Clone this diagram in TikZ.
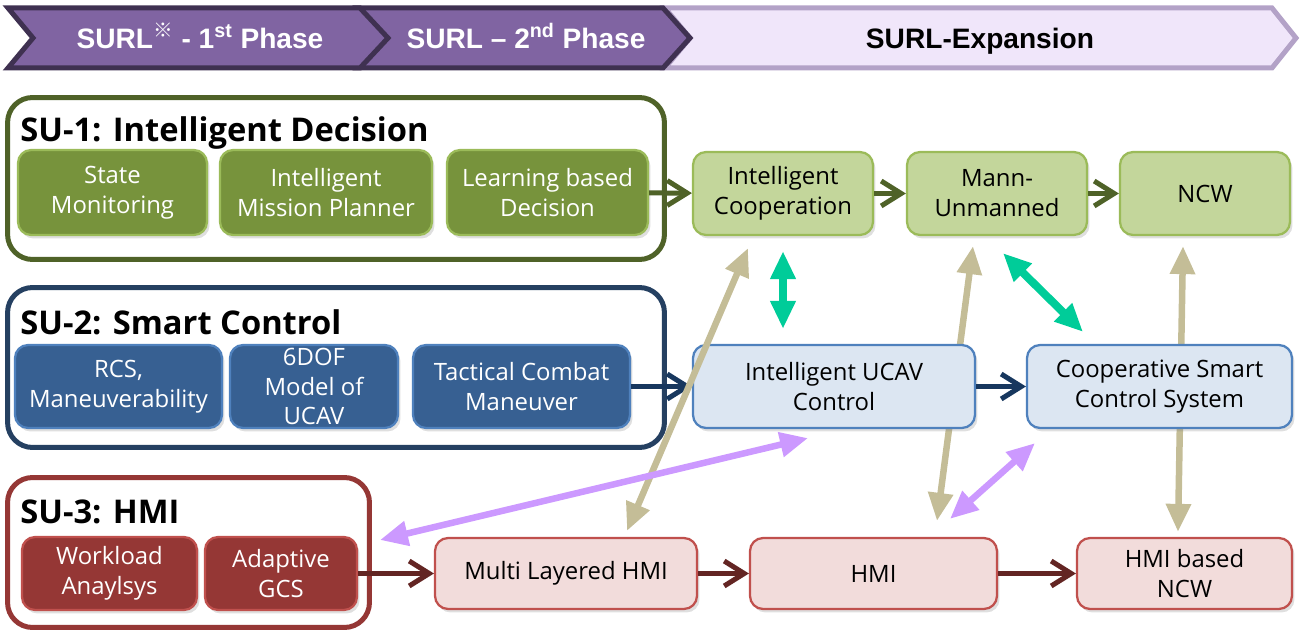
\documentclass[tikz,border=0pt]{standalone}
\usepackage{fontspec}
\setmainfont{Open Sans}
\newfontfamily\bannerfont{Liberation Sans}
\newfontfamily\cjkfont{Noto Sans CJK KR}
\usepackage{xcolor}
\usetikzlibrary{arrows.meta, positioning, backgrounds, shadows}
\definecolor{phasefill}{HTML}{8064A2}
\definecolor{phaseline}{HTML}{3F3151}
\definecolor{expfill}{HTML}{F0E6FA}
\definecolor{expline}{HTML}{B3A2C7}
\definecolor{sugreen}{HTML}{4F6228}
\definecolor{unitgreen}{HTML}{77933C}
\definecolor{edgegreen}{HTML}{9BBB59}
\definecolor{itemgreen}{HTML}{C3D69B}
\definecolor{sunavy}{HTML}{254061}
\definecolor{unitblue}{HTML}{376092}
\definecolor{edgeblue}{HTML}{4F81BD}
\definecolor{itemblue}{HTML}{DCE6F2}
\definecolor{flownavy}{HTML}{17375E}
\definecolor{sured}{HTML}{953735}
\definecolor{unitred}{HTML}{953735}
\definecolor{edgered}{HTML}{C0504D}
\definecolor{itempink}{HTML}{F2DCDB}
\definecolor{flowred}{HTML}{632523}
\definecolor{tanlink}{HTML}{C4BD97}
\definecolor{teallink}{HTML}{00CC99}
\definecolor{lilaclink}{HTML}{CC99FF}

\begin{document}
\begin{tikzpicture}[
    x=0.02cm, y=-0.02cm,
    font=\fontsize{13.6}{17}\selectfont,
    phase/.style={line width=1mm, line join=miter},
    phasetext/.style={anchor=base, font=\bannerfont\bfseries\fontsize{16}{19}\selectfont},
    group/.style={rectangle, rounded corners=5mm, line width=1mm, fill=white},
    grouptitle/.style={anchor=west, inner sep=0pt, font=\bfseries\fontsize{18.6}{22}\selectfont},
    unit/.style={rectangle, rounded corners=2.6mm, line width=0.45mm, align=center,
                 text=white, inner xsep=1pt, inner ysep=0pt,
                 drop shadow={shadow xshift=0.5mm, shadow yshift=-0.7mm, opacity=0.25}},
    item/.style={unit, text=black},
    flow/.style={-{Straight Barb[length=4mm, width=5mm]}, line width=1mm},
    link/.style={{Triangle[length=5.6mm, width=4.8mm]}-{Triangle[length=5.6mm, width=4.8mm]},
                 line width=1.3mm}
  ]
    \useasboundingbox (0,0) rectangle (1302,634);

    % phase banner
    \draw[phase, draw=expline, fill=expfill]
      (665,8) -- (1272,8) -- (1296,38) -- (1272,68) -- (665,68) -- (690,38) -- cycle;
    \draw[phase, draw=phaseline, fill=phasefill]
      (358,8) -- (663,8) -- (690,38) -- (663,68) -- (358,68) -- (385,38) -- cycle;
    \draw[phase, draw=phaseline, fill=phasefill]
      (8,8) -- (360,8) -- (388,38) -- (360,68) -- (8,68) -- (33,38) -- cycle;
    \node[phasetext, text=white] (phase1) at (200,49)
      {SURL\textsuperscript{\cjkfont ※} - 1\textsuperscript{st} Phase};
    \node[phasetext, text=white] (phase2) at (526,49) {SURL – 2\textsuperscript{nd} Phase};
    \node[phasetext] (expansion) at (980,49) {SURL-Expansion};

    % SU-1
    \node[group, draw=sugreen, minimum width=131.4mm, minimum height=32.4mm] (su1) at (336,178.5) {};
    \node[grouptitle] (su1title) at (20,133) {SU-1: Intelligent Decision};
    \node[unit, fill=unitgreen, draw=edgegreen, minimum width=37.8mm, minimum height=17mm] (monitor) at (112.5,192.5) {State\\Monitoring};
    \node[unit, fill=unitgreen, draw=edgegreen, minimum width=42.4mm, minimum height=17mm] (planner) at (326,192.5) {Intelligent\\Mission Planner};
    \node[unit, fill=unitgreen, draw=edgegreen, minimum width=40.2mm, minimum height=17mm] (learning) at (547.5,192.5) {Learning based\\Decision};

    % SU-2
    \node[group, draw=sunavy, minimum width=131.4mm, minimum height=32mm] (su2) at (336,367.5) {};
    \node[grouptitle] (su2title) at (20,322) {SU-2: Smart Control};
    \node[unit, fill=unitblue, draw=edgeblue, minimum width=41.4mm, minimum height=16.6mm] (rcs) at (118.5,386.5) {RCS,\\Maneuverability};
    \node[unit, fill=unitblue, draw=edgeblue, minimum width=33.6mm, minimum height=16.6mm] (sixdof) at (314,386.5) {6DOF\\Model of\\UCAV};
    \node[unit, fill=unitblue, draw=edgeblue, minimum width=43.4mm, minimum height=16.6mm] (tactical) at (521.5,386.5) {Tactical Combat\\Maneuver};

    % SU-3
    \node[group, draw=sured, minimum width=72.4mm, minimum height=30mm] (su3) at (188.5,552.5) {};
    \node[grouptitle] (su3title) at (20,512) {SU-3: HMI};
    \node[unit, fill=unitred, draw=edgered, minimum width=35mm, minimum height=14.6mm] (workload) at (109.5,573.5) {Workload\\Anaylsys};
    \node[unit, fill=unitred, draw=edgered, minimum width=30.4mm, minimum height=14.6mm] (gcs) at (281,573.5) {Adaptive\\GCS};

    % expansion
    \node[item, fill=itemgreen, draw=edgegreen, minimum width=36mm, minimum height=16.6mm] (coop) at (783,193.5) {Intelligent\\Cooperation};
    \node[item, fill=itemgreen, draw=edgegreen, minimum width=36mm, minimum height=16.6mm] (mum) at (997,193.5) {Mann-\\Unmanned};
    \node[item, fill=itemgreen, draw=edgegreen, minimum width=34mm, minimum height=16.6mm] (ncw) at (1205,193.5) {NCW};
    \node[item, fill=itemblue, draw=edgeblue, minimum width=56.4mm, minimum height=16.6mm] (ucav) at (834,386.5) {Intelligent UCAV\\Control};
    \node[item, fill=itemblue, draw=edgeblue, minimum width=53mm, minimum height=16.6mm] (cscs) at (1159.5,386.5) {Cooperative Smart\\Control System};
    \node[item, fill=itempink, draw=edgered, minimum width=52.4mm, minimum height=14.2mm] (layered) at (566,573.5) {Multi Layered HMI};
    \node[item, fill=itempink, draw=edgered, minimum width=49.4mm, minimum height=14.2mm] (hmi) at (873.5,573.5) {HMI};
    \node[item, fill=itempink, draw=edgered, minimum width=43mm, minimum height=14.2mm] (hmincw) at (1184.5,573.5) {HMI based\\NCW};

    % flows
    \draw[flow, draw=sugreen] (learning) -- (coop);
    \draw[flow, draw=sugreen] (coop) -- (mum);
    \draw[flow, draw=sugreen] (mum) -- (ncw);
    \draw[flow, draw=flownavy] (tactical) -- (ucav);
    \draw[flow, draw=flownavy] (ucav) -- (cscs);
    \draw[flow, draw=flowred] (gcs) -- (layered);
    \draw[flow, draw=flowred] (layered) -- (hmi);
    \draw[flow, draw=flowred] (hmi) -- (hmincw);

    % links
    \begin{scope}[on background layer]
      \draw[link, draw=tanlink] ([shift={(63.5,-16)}]hmi.north) -- ([shift={(-24,10)}]mum.south);
      \draw[link, draw=tanlink] ([shift={(-22,10)}]ncw.south) -- ([shift={(-6.5,-5)}]hmincw.north);
    \end{scope}
    \draw[link, draw=tanlink] ([shift={(61,-6)}]layered.north) -- ([shift={(-35,12)}]coop.south);
    \draw[link, draw=teallink, line width=1.6mm] ([shift={(0,15)}]coop.south) -- ([shift={(-51,-15)}]ucav.north);
    \draw[link, draw=teallink, line width=1.6mm] ([shift={(6,17)}]mum.south) -- ([shift={(-76.5,-12)}]cscs.north);
    \draw[link, draw=lilaclink] ([shift={(8,-12.5)}]su3.east) -- ([shift={(-26,9)}]ucav.south);
    \draw[link, draw=lilaclink] ([shift={(76.5,-18)}]hmi.north) -- ([shift={(-124.5,14)}]cscs.south);
\end{tikzpicture}
\end{document}
